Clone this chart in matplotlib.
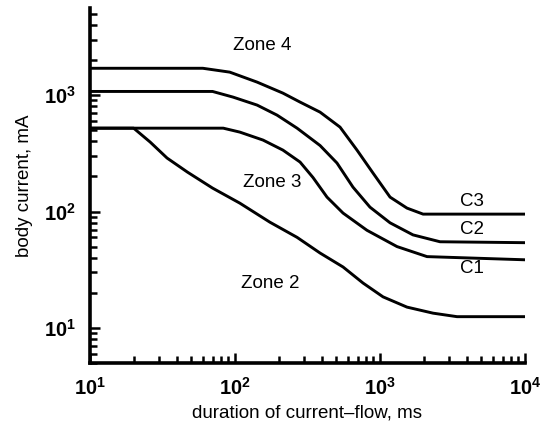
import matplotlib
matplotlib.use("Agg")
import matplotlib.pyplot as plt
from matplotlib.ticker import LogLocator, FixedLocator, NullFormatter

plt.rcParams['font.family'] = ['Liberation Sans', 'DejaVu Sans']
plt.rcParams['mathtext.fontset'] = 'custom'
plt.rcParams['mathtext.rm'] = 'Liberation Sans'
plt.rcParams['mathtext.bf'] = 'Liberation Sans:bold'

# curve readings: duration (ms) vs body current (mA)
c3_t = [10, 60, 92, 142, 214, 281, 386, 530, 694, 895, 1173, 1535, 1982, 10000]
c3_i = [1700, 1700, 1575, 1293, 1040, 871, 714, 531, 337, 214, 133, 107, 95, 95]

c2_t = [10, 70, 97, 142, 195, 268, 386, 505, 651, 853, 1173, 1689, 2594, 10000]
c2_i = [1075, 1075, 961, 821, 673, 520, 369, 261, 162, 109, 80, 63, 55, 54]

c1_t = [10, 83, 108, 156, 214, 281, 345, 431, 556, 813, 1310, 2110, 10000]
c1_i = [520, 520, 481, 411, 337, 266, 196, 133, 97, 69, 50, 41, 38.5]

b_t = [10, 20, 26, 34, 47, 70, 108, 174, 268, 386, 556, 764, 1049, 1535, 2321, 3397, 10000]
b_i = [520, 520, 395, 288, 218, 159, 118, 81, 60, 44, 33.4, 24.3, 18.5, 15.1, 13.4, 12.5, 12.5]

zone_labels = ['Zone 4', 'Zone 3', 'Zone 2']
curve_labels = ['C3', 'C2', 'C1']

fig = plt.figure(figsize=(5.5, 4.32), dpi=100)
ax = fig.add_axes([90/550, 1 - 363/432, 435/550, 355/432])

for t, i in [(c3_t, c3_i), (c2_t, c2_i), (c1_t, c1_i), (b_t, b_i)]:
    ax.plot(t, i, color='black', linewidth=2.1, solid_joinstyle='round')

ax.set_xscale('log')
ax.set_yscale('log')
ax.set_xlim(10, 10000)
ax.set_ylim(5, 5600)

ax.xaxis.set_major_locator(FixedLocator([10, 100, 1000, 10000]))
ax.yaxis.set_major_locator(FixedLocator([10, 100, 1000]))
ax.xaxis.set_minor_locator(LogLocator(base=10, subs=range(2, 10)))
ax.yaxis.set_minor_locator(LogLocator(base=10, subs=range(2, 10)))
ax.xaxis.set_minor_formatter(NullFormatter())
ax.yaxis.set_minor_formatter(NullFormatter())
ax.set_xticklabels([r'$\mathbf{10^{1}}$', r'$\mathbf{10^{2}}$', r'$\mathbf{10^{3}}$', r'$\mathbf{10^{4}}$'])
ax.set_yticklabels([r'$\mathbf{10^{1}}$', r'$\mathbf{10^{2}}$', r'$\mathbf{10^{3}}$'])

ax.tick_params(which='both', direction='in', width=1.8, labelsize=14.5)
ax.tick_params(which='major', length=7, pad=10)
ax.tick_params(which='minor', length=5)

for side in ['top', 'right']:
    ax.spines[side].set_visible(False)
for side in ['left', 'bottom']:
    ax.spines[side].set_linewidth(2.6)

ax.set_xlabel('duration of current\u2013flow, ms', fontsize=13.5, labelpad=4)
ax.set_ylabel('body current, mA', fontsize=13.5, labelpad=8)

ax.text(153, 2690, zone_labels[0], fontsize=13.5, ha='center', va='center')
ax.text(180, 176, zone_labels[1], fontsize=13.5, ha='center', va='center')
ax.text(174, 24.3, zone_labels[2], fontsize=13.5, ha='center', va='center')
ax.text(4300, 121, curve_labels[0], fontsize=13.5, ha='center', va='center')
ax.text(4300, 69.4, curve_labels[1], fontsize=13.5, ha='center', va='center')
ax.text(4300, 32.7, curve_labels[2], fontsize=13.5, ha='center', va='center')

fig.savefig('out.png', dpi=100)
